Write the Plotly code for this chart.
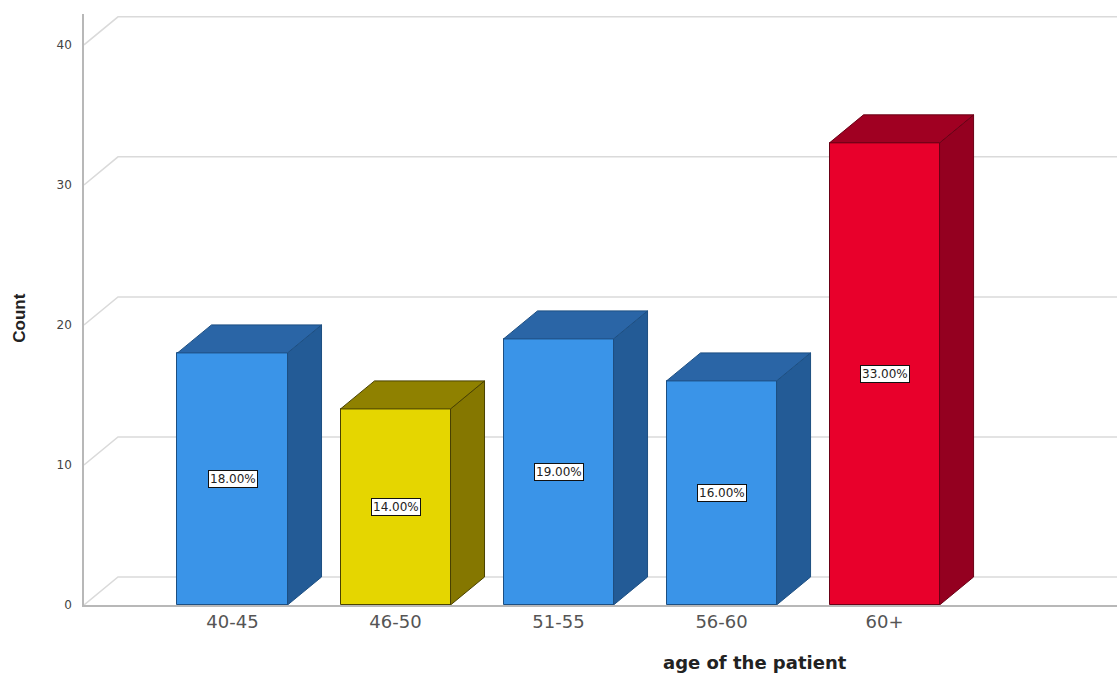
import plotly.graph_objects as go

categories = ["40-45", "46-50", "51-55", "56-60", "60+"]
counts = [18, 14, 19, 16, 33]
front_colors = ["#3a94e8", "#e5d600", "#3a94e8", "#3a94e8", "#e8002b"]
top_colors = ["#2a65a6", "#8f8100", "#2a65a6", "#2a65a6", "#a00022"]
side_colors = ["#235b96", "#857700", "#235b96", "#235b96", "#940020"]
edge_colors = ["#1d4f82", "#4a4200", "#1d4f82", "#1d4f82", "#6a0015"]
y_ticks = [0, 10, 20, 30, 40]

total = sum(counts)
pct_labels = [f"{c / total * 100:.2f}%" for c in counts]

# 3D depth (in axis units) and layout constants
DX = 0.2086
DY = 2.0
BAR_W = 0.675
X0, X1 = -0.911, 5.426
Y_TOP = 42.2

fig = go.Figure()

# front faces
fig.add_trace(go.Bar(
    x=list(range(len(categories))), y=counts, width=BAR_W,
    marker=dict(color=front_colors, line=dict(color=edge_colors, width=1)),
    hoverinfo="skip", showlegend=False,
))

# side and top faces
for i, v in enumerate(counts):
    xl, xr = i - BAR_W / 2, i + BAR_W / 2
    fig.add_trace(go.Scatter(
        x=[xr, xr + DX, xr + DX, xr, xr], y=[0, DY, v + DY, v, 0],
        fill="toself", fillcolor=side_colors[i], mode="lines",
        line=dict(color=edge_colors[i], width=1), hoverinfo="skip", showlegend=False,
    ))
    fig.add_trace(go.Scatter(
        x=[xl, xl + DX, xr + DX, xr, xl], y=[v, v + DY, v + DY, v, v],
        fill="toself", fillcolor=top_colors[i], mode="lines",
        line=dict(color=edge_colors[i], width=1), hoverinfo="skip", showlegend=False,
    ))
    fig.add_annotation(
        x=i, y=v / 2, text=pct_labels[i], showarrow=False,
        font=dict(family="DejaVu Sans", size=12, color="#222"),
        bgcolor="white", bordercolor="#111", borderwidth=1, borderpad=1,
    )

# back wall gridlines with diagonal side-wall connectors
for v in y_ticks:
    fig.add_shape(type="path",
                  path=f"M {X0},{v} L {X0 + DX},{v + DY} L {X1},{v + DY}",
                  line=dict(color="#dadada", width=1.5), layer="below")

fig.update_layout(
    width=1117, height=675,
    margin=dict(l=84, r=0, t=14, b=70),
    paper_bgcolor="white", plot_bgcolor="white",
    showlegend=False, bargap=0,
    xaxis=dict(
        range=[X0, X1], tickmode="array", tickvals=list(range(len(categories))),
        ticktext=categories, showgrid=False, zeroline=False,
        showline=True, linecolor="#b8b8b8", linewidth=1.5,
        tickfont=dict(family="DejaVu Sans", size=18, color="#555"),
        ticks="", fixedrange=True,
    ),
    yaxis=dict(
        range=[0, Y_TOP], tickmode="array", tickvals=y_ticks,
        showgrid=False, zeroline=False,
        showline=True, linecolor="#b8b8b8", linewidth=1.5,
        tickfont=dict(family="DejaVu Sans", size=12, color="#444"),
        ticks="", ticklabelstandoff=8, fixedrange=True,
    ),
    annotations=list(fig.layout.annotations) + [
        dict(text="age of the patient", xref="paper", yref="paper",
             x=0.65, y=-0.098, xanchor="center", yanchor="middle", showarrow=False,
             font=dict(family="DejaVu Sans", size=18, color="#222", weight="bold")),
        dict(text="Count", xref="paper", yref="paper", x=-0.062, y=0.486,
             xanchor="center", yanchor="middle",
             textangle=-90, showarrow=False,
             font=dict(family="Liberation Sans Narrow, Liberation Sans", size=17,
                       color="#222", weight="bold")),
    ],
)

fig.write_html("out.html")
